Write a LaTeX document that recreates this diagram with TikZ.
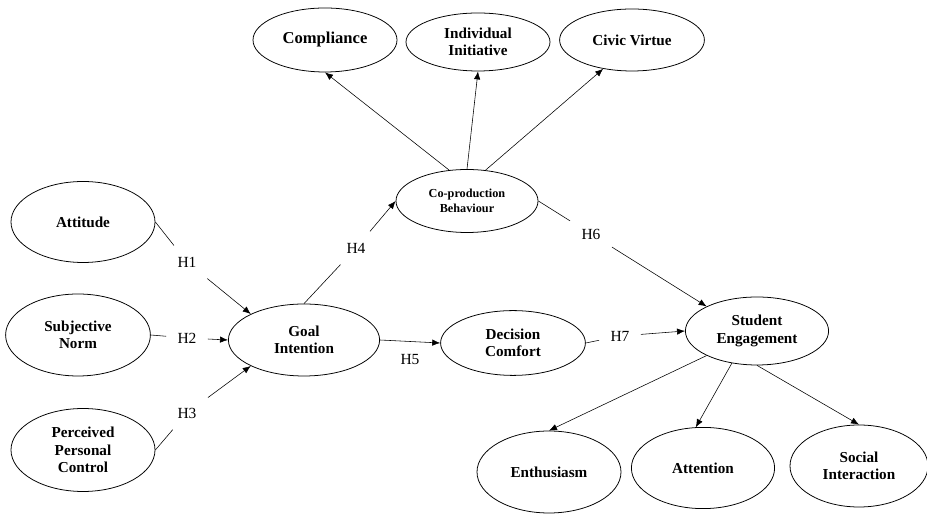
\documentclass[tikz,border=0pt]{standalone}
\usepackage{fontspec}
\setmainfont{Liberation Serif}
\usetikzlibrary{arrows.meta,shapes.geometric}

\begin{document}
\begin{tikzpicture}[>={Latex[length=2mm,width=1.6mm]},
	construct/.style={ellipse, draw, line width=0.55pt, inner sep=0pt, align=center,
		font=\fontsize{10.8}{12.5}\selectfont\bfseries, minimum width=3.6cm, minimum height=2.05cm},
	hyp/.style={inner sep=0.28cm, font=\fontsize{11}{13}\selectfont},
	path/.style={->, line width=0.4pt}]
	\useasboundingbox (0,0) rectangle (23.175,12.85);
	\node[construct, minimum height=1.6cm, font=\fontsize{11.8}{13}\selectfont\bfseries] (comp) at (8.125,11.85) {Compliance};
	\node[construct, minimum height=1.45cm] (indiv) at (11.95,11.8) {Individual\\Initiative};
	\node[construct, minimum width=3.62cm, minimum height=1.55cm] (civic) at (15.8,11.85) {Civic Virtue};
	\node[construct, minimum width=3.55cm, minimum height=1.575cm,
		font=\fontsize{8.7}{10.8}\selectfont\bfseries] (coprod) at (11.675,7.825) {Co-production\\Behaviour};
	\node[construct, minimum height=2.025cm] (att) at (2.075,7.3) {Attitude};
	\node[construct, minimum width=3.62cm] (sn) at (1.95,4.475) {Subjective\\Norm};
	\node[construct, minimum height=2.075cm] (ppc) at (2.075,1.6) {Perceived\\Personal\\Control};
	\node[construct, minimum width=3.78cm, minimum height=1.8cm] (goal) at (7.6,4.35) {Goal\\Intention};
	\node[construct, minimum width=3.62cm, minimum height=1.62cm] (dc) at (12.825,4.275) {Decision\\Comfort};
	\node[construct, minimum width=3.58cm, minimum height=1.7cm] (se) at (18.925,4.575) {Student\\Engagement};
	\node[construct] (enth) at (13.725,1.05) {Enthusiasm};
	\node[construct, minimum width=3.58cm, minimum height=2.03cm] (attn) at (17.575,1.15) {Attention};
	\node[construct, minimum width=3.45cm] (soc) at (21.475,1.2) {Social\\Interaction};
	\node[hyp] (h1) at (4.675,6.3) {H1};
	\node[hyp] (h2) at (4.675,4.4) {H2};
	\node[hyp] (h3) at (4.675,2.525) {H3};
	\node[hyp] (h4) at (8.9,6.65) {H4};
	\node[hyp] (h5) at (10.25,3.85) {H5};
	\node[hyp] (h6) at (14.775,7.0) {H6};
	\node[hyp] (h7) at (15.5,4.45) {H7};
	\draw (att.east) -- (h1);
	\draw[path] (h1) -- (goal.154);
	\draw (sn.east) -- (h2);
	\draw[path] (h2) -- (goal.west);
	\draw (ppc.east) -- (h3);
	\draw[path] (h3) -- (goal.206);
	\draw (goal.north) -- (h4);
	\draw[path] (h4) -- (coprod.west);
	\draw[path] (goal.east) -- (dc.west);
	\draw (coprod.east) -- (h6);
	\draw[path] (h6) -- (se.154);
	\draw (dc.east) -- (h7);
	\draw[path] (h7) -- (se.west);
	\draw[path] (coprod.120) -- (comp.south);
	\draw[path] (coprod.north) -- (indiv.south);
	\draw[path] (coprod.59) -- (civic.225);
	\draw[path] (se.206) -- (enth.north);
	\draw[path] (se.232) -- (attn.100);
	\draw[path] (se.south) -- (soc.north);
\end{tikzpicture}
\end{document}
